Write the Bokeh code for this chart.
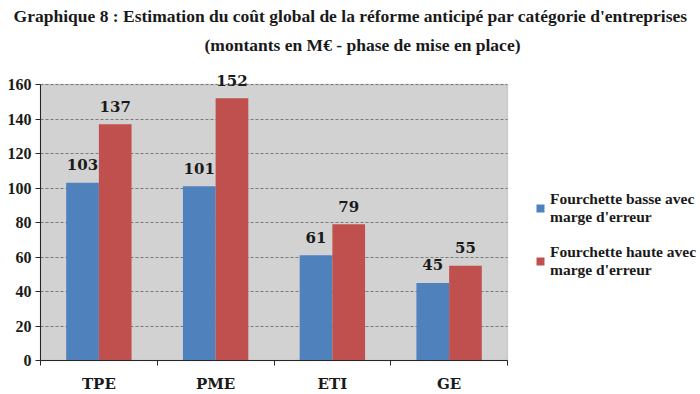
from bokeh.plotting import figure
from bokeh.models import (LinearAxis, FixedTicker, Grid, BoxAnnotation, Label,
                          Legend, LegendItem, ColumnDataSource, Range1d)
from bokeh.core.properties import value
from bokeh.embed import file_html
from bokeh.resources import INLINE

# ---------------- data ----------------
title_line1 = "Graphique 8 : Estimation du coût global de la réforme anticipé par catégorie d'entreprises"
title_line2 = "(montants en M€ - phase de mise en place)"
categories = ["TPE", "PME", "ETI", "GE"]
low_values = [103, 101, 61, 45]
high_values = [137, 152, 79, 55]
series_names = ["Fourchette basse avec\nmarge d'erreur",
                "Fourchette haute avec\nmarge d'erreur"]
y_ticks = [0, 20, 40, 60, 80, 100, 120, 140, 160]

# ---------------- layout (page pixels) ----------------
W, H = 700, 394
PLOT_L, PLOT_R, PLOT_T, PLOT_B = 40, 507, 84, 360
n = len(categories)
ymax = y_ticks[-1]
px_per_cat = (PLOT_R - PLOT_L) / n
px_per_val = (PLOT_B - PLOT_T) / ymax
x0 = -PLOT_L / px_per_cat
x1 = x0 + W / px_per_cat
y0 = -(H - PLOT_B) / px_per_val
y1 = y0 + H / px_per_val


def dx(sx):
    return x0 + sx / px_per_cat


def dy(sy):
    return y0 + (H - sy) / px_per_val


SERIF = "DejaVu Serif"
SERIF_N = "Liberation Serif"
BLUE = "#4f81bd"
RED = "#c0504d"
TXT = "#1a1a1a"
AXIS = "#262626"

p = figure(width=W, height=H, x_range=Range1d(x0, x1), y_range=Range1d(y0, y1),
           x_axis_type=None, y_axis_type=None, output_backend="svg",
           toolbar_location=None, min_border=0, outline_line_color=None,
           background_fill_color="white", border_fill_color="white")

# plot area background
p.add_layout(BoxAnnotation(left=0, right=n, bottom=0, top=ymax,
                           fill_color="#d2d2d2", fill_alpha=1,
                           line_color="#8e8e8e", line_width=1.5,
                           level="underlay"))

# gridlines
grid_kw = dict(dimension=1, ticker=FixedTicker(ticks=y_ticks),
               grid_line_color="#7a7a7a", grid_line_dash="3 2",
               grid_line_width=1, level="underlay")
try:
    grid = Grid(cross_bounds=(0, n), **grid_kw)
    p.add_layout(grid)
except Exception:
    p.segment(x0=[0] * len(y_ticks), x1=[n] * len(y_ticks), y0=y_ticks, y1=y_ticks,
              line_color="#7a7a7a", line_dash="3 2", line_width=1)

# bars
offset, bw = 0.14, 0.28
xs_low = [i + 0.5 - offset for i in range(n)]
xs_high = [i + 0.5 + offset for i in range(n)]
src_low = ColumnDataSource(dict(x=xs_low, top=low_values, lbl=[str(v) for v in low_values]))
src_high = ColumnDataSource(dict(x=xs_high, top=high_values, lbl=[str(v) for v in high_values]))

r_low = p.vbar(x="x", top="top", bottom=0, width=bw, source=src_low,
               fill_color=BLUE, line_color=None)
r_high = p.vbar(x="x", top="top", bottom=0, width=bw, source=src_high,
                fill_color=RED, line_color=None)

for src in (src_low, src_high):
    p.text(x="x", y="top", text="lbl", source=src, text_align="center",
           text_baseline="alphabetic", y_offset=-18, text_font=value(SERIF),
           text_font_style="bold", text_font_size="15px", text_color=TXT)

# axes
yaxis = LinearAxis(fixed_location=0, bounds=(0, ymax),
                   ticker=FixedTicker(ticks=y_ticks),
                   axis_line_color=AXIS, axis_line_width=1,
                   major_tick_line_color=AXIS, major_tick_out=5, major_tick_in=0,
                   minor_tick_line_color=None, major_label_standoff=4,
                   major_label_text_font=SERIF_N, major_label_text_font_style="bold",
                   major_label_text_font_size="16px", major_label_text_color=TXT)
p.add_layout(yaxis, "left")

xaxis = LinearAxis(fixed_location=0, bounds=(0, n),
                   ticker=FixedTicker(ticks=[i + 0.5 for i in range(n)],
                                      minor_ticks=list(range(n + 1))),
                   major_label_overrides={i + 0.5: c for i, c in enumerate(categories)},
                   axis_line_color=AXIS, axis_line_width=1,
                   major_tick_line_color=None, major_tick_out=0, major_tick_in=0,
                   minor_tick_line_color=AXIS, minor_tick_out=5, minor_tick_in=0,
                   major_label_standoff=9,
                   major_label_text_font=SERIF, major_label_text_font_style="bold",
                   major_label_text_font_size="15px", major_label_text_color=TXT)
p.add_layout(xaxis, "below")

# title
for txt, sx, sy in ((title_line1, 350, 15), (title_line2, 362, 44)):
    p.add_layout(Label(x=dx(sx), y=dy(sy), text=txt, text_align="center",
                       text_baseline="middle", text_font=SERIF_N,
                       text_font_style="bold", text_font_size="17.5px",
                       text_color=TXT))

# legend
legend = Legend(items=[LegendItem(label=series_names[0], renderers=[r_low]),
                       LegendItem(label=series_names[1], renderers=[r_high])],
                location=(535, H - 279),
                orientation="vertical", border_line_color=None,
                background_fill_alpha=0, padding=0, margin=0, spacing=17,
                glyph_width=10, glyph_height=10, label_standoff=5,
                label_text_font=SERIF_N, label_text_font_style="bold",
                label_text_font_size="15.5px",
                label_text_color=TXT)
p.add_layout(legend)

open("out.html", "w").write(file_html(p, INLINE))
